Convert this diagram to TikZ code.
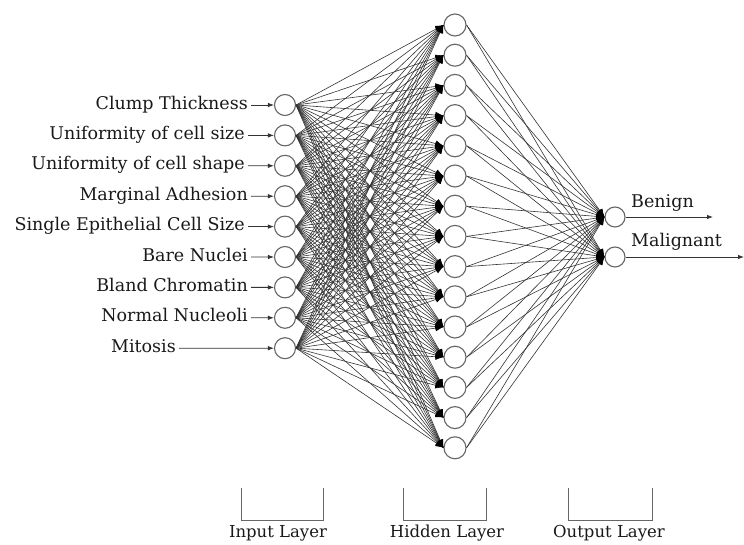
\documentclass[tikz,border=0pt]{standalone}
\usepackage{fontspec}
\setmainfont{DejaVu Serif}
\usetikzlibrary{arrows.meta}
\begin{document}
\begin{tikzpicture}[x=1pt,y=-1pt,
  neuron/.style={circle, draw=black!60, line width=1.1pt, fill=white, minimum size=21pt, inner sep=0pt},
  link/.style={draw=black!80, line width=0.6pt, -{Latex[length=8pt,width=6.5pt,color=black]}},
  feed/.style={draw=black!80, line width=0.8pt, -{Latex[length=6pt,width=4.5pt]}},
  txt/.style={font=\fontsize{17.5}{20}\selectfont, text=black!90, inner sep=1pt, text height=0.75em, text depth=0.22em},
  inlab/.style={txt, anchor=east, yshift=-1.5pt},
  laylab/.style={txt, font=\fontsize{16.5}{19}\selectfont},
  bracket/.style={draw=black!60, line width=1pt}]
\useasboundingbox (0,0) rectangle (744,545);
% input layer
\foreach \i in {0,...,8} \node[neuron] (in\i) at (285, 105+30.4*\i) {};
% hidden layer
\foreach \j in {0,...,14} \node[neuron, minimum size=22pt] (h\j) at (455, 25+30.2*\j) {};
% output layer
\node[neuron, minimum size=20pt] (o0) at (615,217) {};
\node[neuron, minimum size=20pt] (o1) at (615,257) {};
% connections
\foreach \i in {0,...,8} \foreach \j in {0,...,14} \draw[link] (in\i.east) -- (h\j.west);
\foreach \j in {0,...,14} \foreach \k in {0,1} \draw[link] (h\j.east) -- (o\k.west);
% input labels
\node[inlab] (l0) at (249,105) {Clump Thickness};
\node[inlab] (l1) at (246,135.4) {Uniformity of cell size};
\node[inlab] (l2) at (246,165.8) {Uniformity of cell shape};
\node[inlab] (l3) at (249,196.2) {Marginal Adhesion};
\node[inlab] (l4) at (246,226.6) {Single Epithelial Cell Size};
\node[inlab] (l5) at (249,257) {Bare Nuclei};
\node[inlab] (l6) at (249,287.4) {Bland Chromatin};
\node[inlab] (l7) at (249,317.8) {Normal Nucleoli};
\node[inlab] (l8) at (177,348.2) {Mitosis};
\foreach \i in {0,...,8} \draw[feed] ([xshift=2pt,yshift=1.5pt]l\i.east) -- (in\i.west);
% outputs
\coordinate (b) at (713,217);
\coordinate (m) at (744,257);
\draw[feed] (o0.east) -- (b);
\draw[feed] (o1.east) -- (m);
\node[txt, anchor=base west] (tb) at (630,208) {Benign};
\node[txt, anchor=base west] (tm) at (630,247) {Malignant};
% layer brackets
\draw[bracket] (241,488) -- (241,520) -- (323,520) -- (323,488);
\draw[bracket] (403,488) -- (403,520) -- (486,520) -- (486,488);
\draw[bracket] (568,488) -- (568,520) -- (652,520) -- (652,488);
\node[laylab] (li) at (278,535) {Input Layer};
\node[laylab] (lh) at (447,535) {Hidden Layer};
\node[laylab] (lo) at (609,535) {Output Layer};
\end{tikzpicture}
\end{document}
